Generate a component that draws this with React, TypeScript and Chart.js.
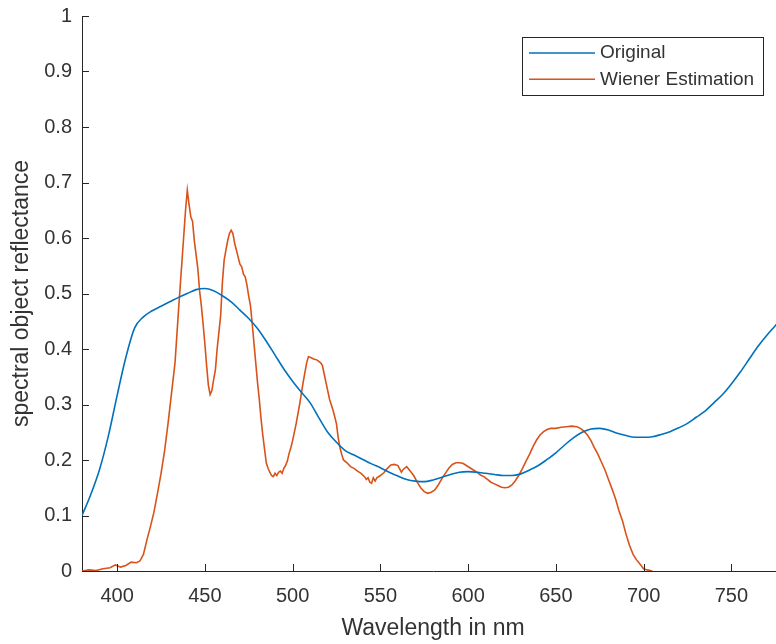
import { useEffect, useRef } from "react";
import { Chart, registerables } from "chart.js";

Chart.register(...registerables);

const FONT = '"Liberation Sans", Arial, Helvetica, sans-serif';

const seriesLabels = ["Original", "Wiener Estimation"];
const seriesColors = ["#0072BD", "#D95319"];

const xTickValues = [400, 450, 500, 550, 600, 650, 700, 750];
const yTickValues = [0, 0.1, 0.2, 0.3, 0.4, 0.5, 0.6, 0.7, 0.8, 0.9, 1];

const originalNm = [
  380, 385, 390, 395, 400, 405, 410, 415, 420, 425,
  430, 435, 440, 445, 450, 455, 460, 465, 470, 475,
  480, 485, 490, 495, 500, 505, 510, 515, 520, 525,
  530, 535, 540, 545, 550, 555, 560, 565, 570, 575,
  580, 585, 590, 595, 600, 605, 610, 615, 620, 625,
  630, 635, 640, 645, 650, 655, 660, 665, 670, 675,
  680, 685, 690, 695, 700, 705, 710, 715, 720, 725,
  730, 735, 740, 745, 750, 755, 760, 765, 770, 775,
  780,
];
const originalValues = [
  0.100, 0.138, 0.183, 0.243, 0.316, 0.385, 0.438, 0.458, 0.469, 0.477,
  0.485, 0.493, 0.500, 0.507, 0.509, 0.505, 0.496, 0.485, 0.470, 0.455,
  0.437, 0.414, 0.389, 0.364, 0.342, 0.322, 0.303, 0.276, 0.250, 0.232,
  0.217, 0.209, 0.201, 0.193, 0.186, 0.178, 0.171, 0.165, 0.162, 0.161,
  0.164, 0.169, 0.174, 0.178, 0.179, 0.178, 0.176, 0.174, 0.172, 0.172,
  0.175, 0.182, 0.190, 0.201, 0.213, 0.227, 0.240, 0.250, 0.256, 0.257,
  0.254, 0.248, 0.244, 0.241, 0.241, 0.242, 0.246, 0.251, 0.258, 0.266,
  0.277, 0.288, 0.303, 0.318, 0.337, 0.358, 0.381, 0.404, 0.424, 0.442,
  0.460,
];

const wienerNm = [
  380, 384, 388, 392, 396, 399, 402, 405, 408, 411,
  413, 415, 417, 419, 421, 423, 425, 427, 429, 431,
  433, 435, 437, 439, 440, 441, 442, 443, 444, 445,
  446, 447, 448, 449, 450, 451, 452, 453, 454, 455,
  456, 457, 458, 459, 460, 461, 462, 463, 464, 465,
  466, 467, 468, 469, 470, 471, 472, 473, 474, 475,
  476, 477, 478, 479, 480, 481, 482, 483, 484, 485,
  486, 487, 488, 489, 490, 491, 492, 493, 494, 495,
  496, 497, 498, 499, 500, 502, 504, 506, 508, 509,
  510, 512, 514, 516, 517, 518, 519, 520, 521, 522,
  523, 524, 525, 526, 527, 528, 529, 531, 533, 535,
  537, 539, 541, 542, 543, 544, 545, 546, 547, 548,
  550, 552, 554, 556, 558, 560, 561, 562, 563, 565,
  567, 569, 571, 573, 575, 577, 579, 581, 583, 585,
  587, 589, 591, 593, 595, 597, 599, 601, 603, 605,
  607, 609, 611, 613, 615, 617, 619, 621, 623, 625,
  627, 629, 631, 633, 635, 637, 639, 641, 643, 645,
  647, 650, 653, 656, 659, 662, 664, 666, 668, 670,
  672, 674, 676, 678, 680, 682, 684, 686, 688, 690,
  692, 694, 696, 698, 700, 702, 705,
];
const wienerValues = [
  0.000, 0.002, 0.001, 0.004, 0.006, 0.011, 0.007, 0.010, 0.016, 0.015,
  0.018, 0.030, 0.056, 0.080, 0.106, 0.140, 0.175, 0.215, 0.265, 0.320,
  0.375, 0.470, 0.560, 0.650, 0.686, 0.660, 0.638, 0.630, 0.595, 0.570,
  0.545, 0.505, 0.478, 0.445, 0.410, 0.370, 0.335, 0.318, 0.325, 0.345,
  0.362, 0.400, 0.430, 0.460, 0.520, 0.560, 0.578, 0.595, 0.608, 0.614,
  0.608, 0.590, 0.578, 0.565, 0.553, 0.548, 0.535, 0.530, 0.515, 0.495,
  0.478, 0.445, 0.410, 0.375, 0.340, 0.310, 0.275, 0.245, 0.220, 0.195,
  0.185, 0.178, 0.172, 0.170, 0.176, 0.172, 0.178, 0.180, 0.176, 0.185,
  0.190, 0.198, 0.212, 0.222, 0.235, 0.265, 0.300, 0.340, 0.375, 0.386,
  0.385, 0.382, 0.380, 0.375, 0.370, 0.355, 0.340, 0.325, 0.310, 0.300,
  0.290, 0.278, 0.265, 0.240, 0.222, 0.210, 0.200, 0.195, 0.188, 0.185,
  0.180, 0.176, 0.170, 0.165, 0.168, 0.160, 0.158, 0.168, 0.162, 0.168,
  0.172, 0.177, 0.185, 0.191, 0.192, 0.190, 0.184, 0.178, 0.183, 0.188,
  0.180, 0.172, 0.160, 0.150, 0.143, 0.140, 0.142, 0.146, 0.155, 0.166,
  0.176, 0.185, 0.192, 0.195, 0.195, 0.194, 0.190, 0.186, 0.182, 0.178,
  0.173, 0.170, 0.165, 0.160, 0.157, 0.154, 0.151, 0.150, 0.151, 0.155,
  0.163, 0.173, 0.185, 0.198, 0.210, 0.224, 0.236, 0.245, 0.251, 0.255,
  0.257, 0.257, 0.259, 0.260, 0.261, 0.260, 0.257, 0.252, 0.245, 0.235,
  0.222, 0.210, 0.196, 0.182, 0.165, 0.148, 0.130, 0.108, 0.090, 0.066,
  0.046, 0.030, 0.020, 0.012, 0.004, 0.002, 0.000,
];

const AXIS_COLOR = "#262626";
const TEXT_COLOR = "#333333";

export default function App() {
  const canvasRef = useRef<HTMLCanvasElement>(null);

  useEffect(() => {
    const canvas = canvasRef.current;
    if (!canvas) return;

    const inwardTicks = {
      id: "inwardTicks",
      afterDatasetsDraw(chart: any) {
        const { ctx, chartArea, scales } = chart;
        ctx.save();
        ctx.strokeStyle = AXIS_COLOR;
        ctx.lineWidth = 1;
        ctx.beginPath();
        for (const t of scales.x.ticks) {
          const px = Math.round(scales.x.getPixelForValue(t.value)) + 0.5;
          ctx.moveTo(px, chartArea.bottom);
          ctx.lineTo(px, chartArea.bottom - 7);
        }
        for (const t of scales.y.ticks) {
          const py = Math.round(scales.y.getPixelForValue(t.value)) + 0.5;
          ctx.moveTo(chartArea.left, py);
          ctx.lineTo(chartArea.left + 7, py);
        }
        ctx.stroke();
        ctx.restore();
      },
    };

    const boxedLegend = {
      id: "boxedLegend",
      afterDraw(chart: any) {
        const { ctx, chartArea } = chart;
        const ds = chart.data.datasets;
        ctx.save();
        ctx.font = `19px ${FONT}`;
        const tw = Math.max(...ds.map((d: any) => ctx.measureText(d.label).width));
        const w = 7 + 66 + 5 + tw + 9;
        const h = 58;
        const right = chartArea.right - 21;
        const left = Math.round(right - w);
        const top = chartArea.top + 21;
        ctx.fillStyle = "#ffffff";
        ctx.fillRect(left, top, w, h);
        ctx.strokeStyle = AXIS_COLOR;
        ctx.lineWidth = 1;
        ctx.strokeRect(left + 0.5, top + 0.5, Math.round(w), h);
        ds.forEach((d: any, i: number) => {
          const y = top + 16 + i * 26.3;
          ctx.strokeStyle = d.borderColor;
          ctx.lineWidth = 1.5;
          ctx.beginPath();
          ctx.moveTo(left + 7, y);
          ctx.lineTo(left + 73, y);
          ctx.stroke();
          ctx.fillStyle = TEXT_COLOR;
          ctx.textBaseline = "middle";
          ctx.textAlign = "left";
          ctx.fillText(d.label, left + 78, y);
        });
        ctx.restore();
      },
    };

    const chart = new Chart(canvas, {
      type: "line",
      data: {
        datasets: [
          {
            label: seriesLabels[0],
            data: originalNm.map((x, i) => ({ x, y: originalValues[i] })),
            borderColor: seriesColors[0],
            backgroundColor: seriesColors[0],
            borderWidth: 1.6,
            pointRadius: 0,
            cubicInterpolationMode: "monotone",
            fill: false,
          },
          {
            label: seriesLabels[1],
            data: wienerNm.map((x, i) => ({ x, y: wienerValues[i] })),
            borderColor: seriesColors[1],
            backgroundColor: seriesColors[1],
            borderWidth: 1.6,
            pointRadius: 0,
            tension: 0,
            fill: false,
          },
        ],
      },
      options: {
        responsive: false,
        animation: false,
        devicePixelRatio: 1,
        layout: { padding: { top: 16, right: 0, bottom: 0, left: 0 } },
        plugins: {
          legend: { display: false },
          tooltip: { enabled: false },
        },
        scales: {
          x: {
            type: "linear",
            min: 380,
            max: 780,
            afterBuildTicks: (axis: any) => {
              axis.ticks = xTickValues.map((v) => ({ value: v }));
            },
            afterFit: (s: any) => {
              s.height = 73;
              s.paddingLeft = 0;
              s.paddingRight = 0;
            },
            grid: { display: false, drawTicks: false },
            border: { display: true, color: AXIS_COLOR, width: 1 },
            ticks: {
              color: TEXT_COLOR,
              font: { family: FONT, size: 20 },
              padding: 13,
              maxRotation: 0,
              autoSkip: false,
            },
            title: {
              display: true,
              text: "Wavelength in nm",
              color: TEXT_COLOR,
              font: { family: FONT, size: 23 },
              padding: { top: 0, bottom: 2 },
            },
          },
          y: {
            type: "linear",
            min: 0,
            max: 1,
            afterBuildTicks: (axis: any) => {
              axis.ticks = yTickValues.map((v) => ({ value: v }));
            },
            afterFit: (s: any) => {
              s.width = 82;
              s.paddingTop = 0;
              s.paddingBottom = 0;
            },
            grid: { display: false, drawTicks: false },
            border: { display: true, color: AXIS_COLOR, width: 1 },
            ticks: {
              color: TEXT_COLOR,
              font: { family: FONT, size: 20 },
              padding: 10,
              callback: (v: any) => String(Math.round(Number(v) * 10) / 10),
            },
            title: {
              display: true,
              text: "spectral object reflectance",
              color: TEXT_COLOR,
              font: { family: FONT, size: 23 },
              padding: { top: 8, bottom: 0 },
            },
          },
        },
      },
      plugins: [inwardTicks, boxedLegend],
    } as any);

    return () => chart.destroy();
  }, []);

  return (
    <div
      style={{
        position: "fixed",
        left: 0,
        top: 0,
        width: 776,
        height: 644,
        overflow: "hidden",
        background: "#ffffff",
      }}
    >
      <canvas ref={canvasRef} width={784} height={644} style={{ display: "block" }} />
    </div>
  );
}
